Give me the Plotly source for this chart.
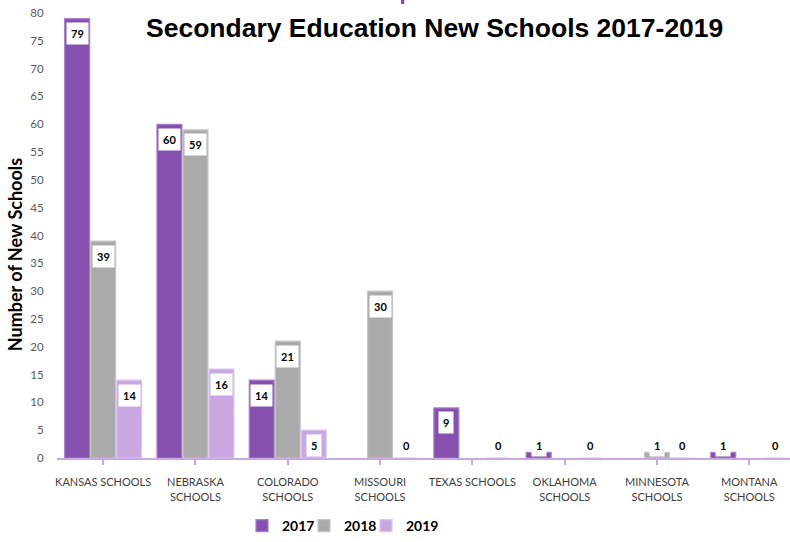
import plotly.graph_objects as go

# Source data: new secondary schools per state, by year
categories = ["KANSAS SCHOOLS", "NEBRASKA<br>SCHOOLS", "COLORADO<br>SCHOOLS",
              "MISSOURI<br>SCHOOLS", "TEXAS SCHOOLS", "OKLAHOMA<br>SCHOOLS",
              "MINNESOTA<br>SCHOOLS", "MONTANA<br>SCHOOLS"]
years = ["2017", "2018", "2019"]
schools_2017 = [79, 60, 14, None, 9, 1, None, 1]
schools_2018 = [39, 59, 21, 30, None, None, 1, None]
schools_2019 = [14, 16, 5, 0, 0, 0, 0, 0]
y_ticks = list(range(0, 81, 5))

series = [schools_2017, schools_2018, schools_2019]
fills = ["#8650AE", "#AAAAAA", "#C9A8E2"]
edges = ["#A57FC9", "#C6C6C6", "#DCC8EE"]

BARGAP = 0.155
pitch = (1 - BARGAP) / 3

fig = go.Figure()
for name, vals, fc, ec in zip(years, series, fills, edges):
    fig.add_trace(go.Bar(
        x=list(range(len(categories))), y=vals, name=name,
        marker=dict(color=fc, line=dict(color=ec, width=1.2)),
        hoverinfo="skip",
    ))

# spacer entry so the last legend label is not clipped
fig.add_trace(go.Scatter(
    x=[None], y=[None], name=" ", mode="markers",
    marker=dict(color="rgba(0,0,0,0)"), hoverinfo="skip",
))

# value labels in white boxes near the top of each bar
for k, vals in enumerate(series):
    for i, v in enumerate(vals):
        if v is None:
            continue
        fig.add_annotation(
            x=i + (k - 1) * pitch, y=max(v - 2.7, 2.3),
            xref="x", yref="y", text=f"<b>{v}</b>", showarrow=False,
            font=dict(family="Lato, Liberation Sans, sans-serif", size=11, color="#000000"),
            bgcolor="#FFFFFF", borderpad=4, yanchor="middle",
        )

L, T, PW, PH = 57, 13, 733, 452

fig.add_annotation(
    text="<b>Secondary Education New Schools 2017-2019</b>",
    xref="paper", yref="paper", x=(434.5 - L) / PW, y=(465 - 28) / PH,
    showarrow=False, xanchor="center", yanchor="middle",
    font=dict(family="Liberation Sans, Arial, sans-serif", size=26.5, color="#000000"),
)
fig.add_annotation(
    text="<b>Group</b>",
    xref="paper", yref="paper", x=(380 - L) / PW, y=(465 + 9) / PH,
    showarrow=False, xanchor="center", yanchor="middle",
    font=dict(family="Liberation Sans, Arial, sans-serif", size=22, color="#7E3FB8"),
)
fig.add_annotation(
    text="<b>Number of New Schools</b>",
    xref="paper", yref="paper", x=(15 - L) / PW, y=(465 - 259) / PH,
    showarrow=False, textangle=-90, xanchor="center", yanchor="middle",
    font=dict(family="Lato, sans-serif", size=18, color="#000000"),
)

fig.update_layout(
    width=790, height=542,
    margin=dict(l=L, r=790 - L - PW, t=T, b=542 - T - PH),
    paper_bgcolor="#FFFFFF", plot_bgcolor="#FFFFFF",
    barmode="group", bargap=BARGAP, bargroupgap=0.04,
    showlegend=True,
    legend=dict(
        orientation="h", x=(242 - L) / PW, xanchor="left",
        y=(465 - 534) / PH, yanchor="middle",
        font=dict(family="Lato, sans-serif", size=14, color="#000000", weight="bold"),
        itemwidth=30, entrywidth=17, traceorder="normal",
    ),
    xaxis=dict(
        tickmode="array", tickvals=list(range(len(categories))), ticktext=categories,
        range=[-0.5, -0.5 + PW / 92.3],
        showline=True, linecolor="#C9A8E2", linewidth=2,
        ticks="outside", ticklen=5, tickwidth=2, tickcolor="#C9A8E2",
        ticklabelstandoff=8,
        showgrid=False, zeroline=False,
        tickfont=dict(family="Lato, sans-serif", size=11, color="#404040"),
    ),
    yaxis=dict(
        range=[0, 80], tickvals=y_ticks, showgrid=False, zeroline=False,
        showline=False, ticks="outside", ticklen=10, tickcolor="rgba(0,0,0,0)",
        tickfont=dict(family="Lato, sans-serif", size=11.5, color="#595959"),
    ),
)

fig.write_html("out.html")
